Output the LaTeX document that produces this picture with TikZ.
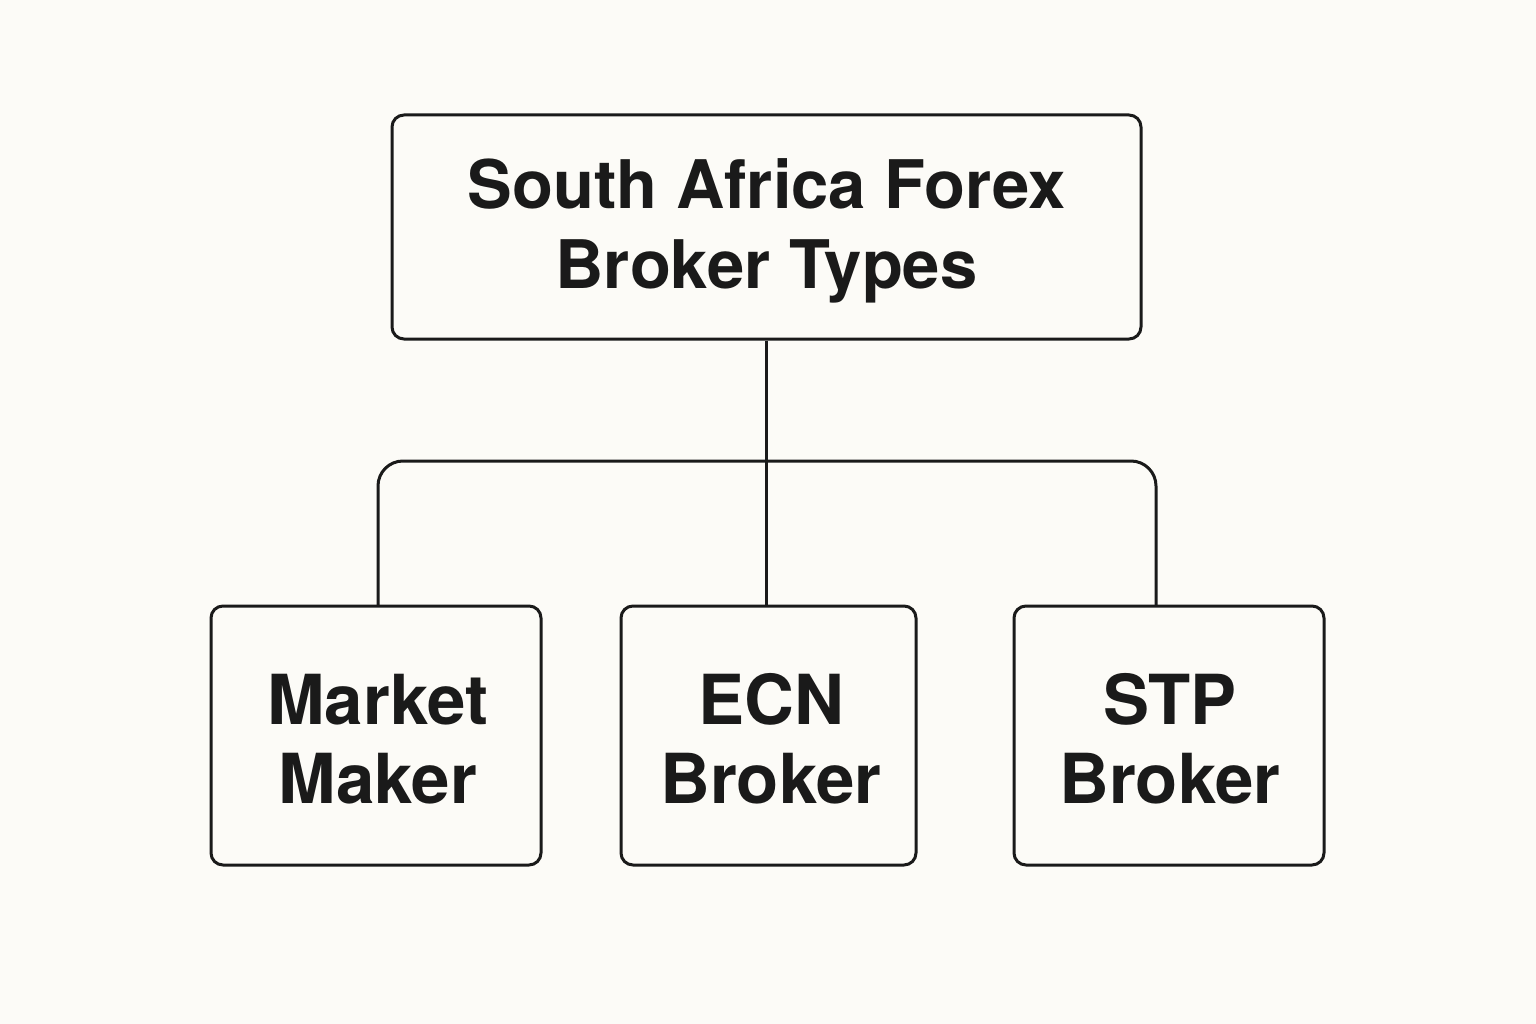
\documentclass[tikz,border=0pt]{standalone}
\usepackage{fontspec}
\setmainfont{TeX Gyre Heros}
\definecolor{bg}{HTML}{FCFBF7}
\definecolor{ink}{HTML}{1A1A1A}
\begin{document}
\begin{tikzpicture}[x=1pt,y=-1pt,
  boxstyle/.style={draw=ink, line width=3pt, rounded corners=12pt, fill=bg, inner sep=0pt, text=ink, font=\fontsize{69}{79}\selectfont\bfseries, align=center},
  link/.style={draw=ink, line width=3pt, rounded corners=25pt}]
\fill[bg] (0,0) rectangle (1536,1024);
\useasboundingbox (0,0) rectangle (1536,1024);
\node[boxstyle, minimum width=749pt, minimum height=224pt] (top) at (766.5,227) {};
\node[text=ink, font=\fontsize{67}{80}\selectfont\bfseries, align=center] (toptext) at (766.5,231) {South Africa Forex\\Broker Types};
\node[boxstyle, minimum width=330pt, minimum height=259pt] (mm) at (376,735.5) {};
\node[boxstyle, minimum width=295pt, minimum height=259pt] (ecn) at (768.5,735.5) {};
\node[boxstyle, minimum width=310pt, minimum height=259pt] (stp) at (1169,735.5) {};
\node[text=ink, font=\fontsize{69}{79}\selectfont\bfseries, align=center] (mmtext) at (378,739) {Market\\Maker};
\node[text=ink, font=\fontsize{69}{79}\selectfont\bfseries, align=center] (ecntext) at (771,739) {ECN\\Broker};
\node[text=ink, font=\fontsize{69}{79}\selectfont\bfseries, align=center] (stptext) at (1170,739) {STP\\Broker};
\coordinate (mmtop) at (378,606);
\coordinate (stptop) at (1156,606);
\coordinate (bar) at (766,461);
\draw[link] (top.south -| bar) -- (ecn.north -| bar);
\draw[link] (mmtop) -- (mmtop |- bar) -- (stptop |- bar) -- (stptop);
\end{tikzpicture}
\end{document}
